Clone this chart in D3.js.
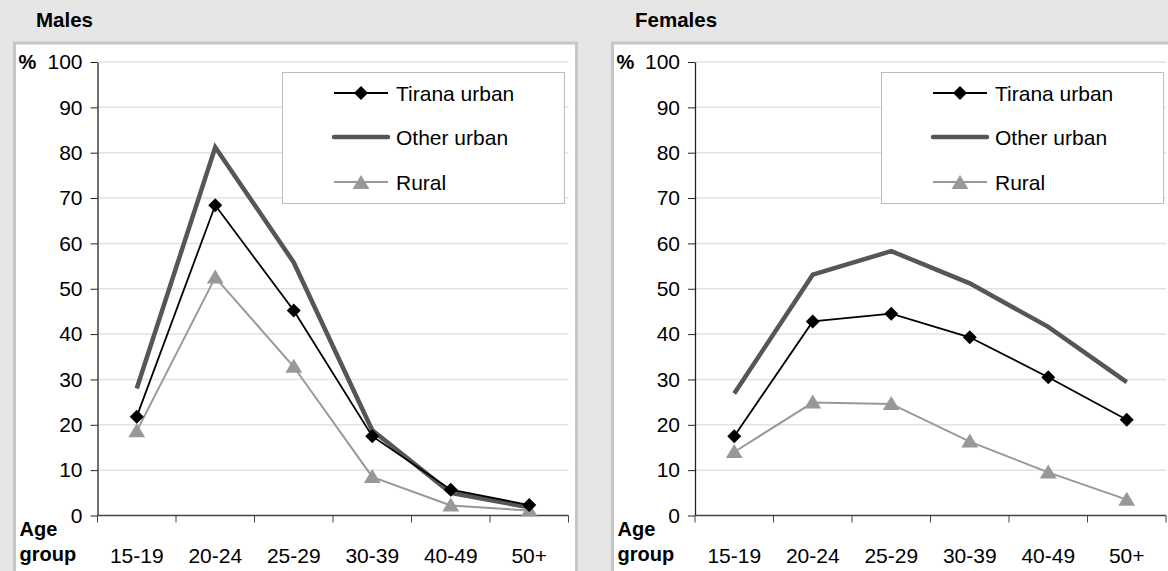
<!DOCTYPE html>
<html>
<head>
<meta charset="utf-8">
<script src="https://cdn.jsdelivr.net/npm/d3@7"></script>
<style>
  body { margin: 0; background: #e6e6e6; }
  svg { display: block; font-family: "Liberation Sans", Arial, sans-serif; }
</style>
</head>
<body>
<svg id="chart" width="1168" height="571"></svg>
<script>
// age groups + values (percent)
var ageGroups = ["15-19", "20-24", "25-29", "30-39", "40-49", "50+"];
var yTicks = [0, 10, 20, 30, 40, 50, 60, 70, 80, 90, 100];

var malesTirana = [21.8, 68.4, 45.2, 17.5, 5.7, 2.3];
var malesOther  = [28.0, 81.2, 55.8, 18.8, 5.0, 1.8];
var malesRural  = [18.6, 52.5, 32.8, 8.5, 2.2, 1.1];

var femalesTirana = [17.5, 42.8, 44.5, 39.3, 30.5, 21.1];
var femalesOther  = [26.9, 53.1, 58.3, 51.2, 41.6, 29.4];
var femalesRural  = [14.0, 24.9, 24.6, 16.3, 9.5, 3.5];

var seriesNames = ["Tirana urban", "Other urban", "Rural"];

const svg = d3.select("#chart");

// little marker shapes like excel's
function diamond(r) { return "M0," + (-r) + "L" + r + ",0L0," + r + "L" + (-r) + ",0Z"; }
function triangle(r) { return "M0," + (-r) + "L" + (r * 1.05) + "," + (r * 0.75) + "L" + (-r * 1.05) + "," + (r * 0.75) + "Z"; }

function drawPanel(opts) {
  const g = svg.append("g");

  // panel box
  g.append("rect")
    .attr("x", opts.boxX).attr("y", 43)
    .attr("width", opts.boxW).attr("height", 540)
    .attr("fill", "#fff")
    .attr("stroke", "#c6c6c6")
    .attr("stroke-width", 3);

  g.append("text")
    .attr("x", opts.titleX).attr("y", 27)
    .style("font-size", "20.5px").style("font-weight", "bold")
    .text(opts.title);

  const x = d3.scaleBand().domain(ageGroups).range([opts.x0, opts.x0 + 471]).padding(0),
        y = d3.scaleLinear().domain([0, 100]).range([515.5, 62]);

  // grid
  g.selectAll(".grid")
    .data(yTicks.filter(d => d > 0))
    .enter().append("line")
      .attr("x1", opts.x0).attr("x2", opts.x0 + 471)
      .attr("y1", d => y(d)).attr("y2", d => y(d))
      .attr("stroke", "#e2e2e2").attr("stroke-width", 1.5);

  // y axis
  const ya = g.append("g")
    .attr("transform", `translate(${opts.x0},0)`)
    .call(d3.axisLeft(y).tickValues(yTicks).tickSize(7).tickSizeOuter(0).tickPadding(8));
  ya.select(".domain").attr("stroke", "#222").attr("stroke-width", 1.3);
  ya.selectAll(".tick line").attr("stroke", "#222");
  ya.selectAll(".tick text").style("font-size", "21px").attr("fill", "#000")
    .attr("font-family", "Liberation Sans, Arial, sans-serif");

  // x axis: labels under band centres, ticks at band edges
  const xa = g.append("g")
    .attr("transform", `translate(0,${y(0)})`)
    .call(d3.axisBottom(x).tickSize(0).tickPadding(33));
  xa.select(".domain").remove();
  xa.selectAll(".tick text").style("font-size", "21px").attr("fill", "#000")
    .attr("font-family", "Liberation Sans, Arial, sans-serif");
  var edges = ageGroups.map(d => x(d)).concat([x(ageGroups[5]) + x.bandwidth()]);
  g.append("line")
    .attr("x1", opts.x0).attr("x2", edges[6])
    .attr("y1", y(0)).attr("y2", y(0))
    .attr("stroke", "#444").attr("stroke-width", 1.3);
  g.selectAll(".xtick")
    .data(edges)
    .enter().append("line")
      .attr("x1", d => d).attr("x2", d => d)
      .attr("y1", y(0)).attr("y2", y(0) + 7)
      .attr("stroke", "#444");

  g.append("text").attr("x", opts.boxX + 4).attr("y", y(100) + 7)
    .style("font-size", "20px").style("font-weight", "bold").text("%");
  g.append("text").attr("x", opts.boxX + 5).attr("y", 536)
    .style("font-size", "20px").style("font-weight", "bold").text("Age");
  g.append("text").attr("x", opts.boxX + 5).attr("y", 561)
    .style("font-size", "20px").style("font-weight", "bold").text("group");

  const line = d3.line()
    .x((d, i) => x(ageGroups[i]) + x.bandwidth() / 2)
    .y(d => y(d));

  g.append("path").datum(opts.other)
    .attr("d", line).attr("fill", "none")
    .attr("stroke", "#565656").attr("stroke-width", 4.5);
  g.append("path").datum(opts.rural)
    .attr("d", line).attr("fill", "none")
    .attr("stroke", "#989898").attr("stroke-width", 2);
  g.append("path").datum(opts.tirana)
    .attr("d", line).attr("fill", "none")
    .attr("stroke", "#000").attr("stroke-width", 1.8);

  g.selectAll(".tri")
    .data(opts.rural)
    .enter().append("path")
      .attr("transform", (d, i) => `translate(${x(ageGroups[i]) + x.bandwidth() / 2},${y(d)})`)
      .attr("d", triangle(8))
      .attr("fill", "#989898");
  g.selectAll(".dia")
    .data(opts.tirana)
    .enter().append("path")
      .attr("transform", (d, i) => `translate(${x(ageGroups[i]) + x.bandwidth() / 2},${y(d)})`)
      .attr("d", diamond(7))
      .attr("fill", "#000");

  // legend
  const lg = g.append("g").attr("transform", `translate(${opts.legX},72)`);
  lg.append("rect").attr("x", 0.5).attr("y", 0.5)
    .attr("width", 282).attr("height", 131)
    .attr("fill", "#fff").attr("stroke", "#bdbdbd");
  var rows = [21, 65, 110];
  var styles = [
    {stroke: "#000", w: 1.8},
    {stroke: "#565656", w: 4.5},
    {stroke: "#989898", w: 2}
  ];
  seriesNames.forEach(function(name, i) {
    lg.append("line")
      .attr("x1", 52).attr("x2", 106)
      .attr("y1", rows[i]).attr("y2", rows[i])
      .attr("stroke", styles[i].stroke).attr("stroke-width", styles[i].w)
      .attr("stroke-linecap", i == 1 ? "round" : "butt");
    if (i == 0) lg.append("path").attr("transform", `translate(79,${rows[i]})`).attr("d", diamond(7)).attr("fill", "#000");
    if (i == 2) lg.append("path").attr("transform", `translate(79,${rows[i] + 1})`).attr("d", triangle(8)).attr("fill", "#989898");
    lg.append("text")
      .attr("x", 114).attr("y", rows[i] + 7.5)
      .style("font-size", "21px")
      .text(name);
  });
}

drawPanel({title: "Males", titleX: 36, boxX: 14.5, boxW: 562, x0: 97.5, legX: 282,
           tirana: malesTirana, other: malesOther, rural: malesRural});
drawPanel({title: "Females", titleX: 635, boxX: 612.5, boxW: 600, x0: 695, legX: 881,
           tirana: femalesTirana, other: femalesOther, rural: femalesRural});
</script>
</body>
</html>
